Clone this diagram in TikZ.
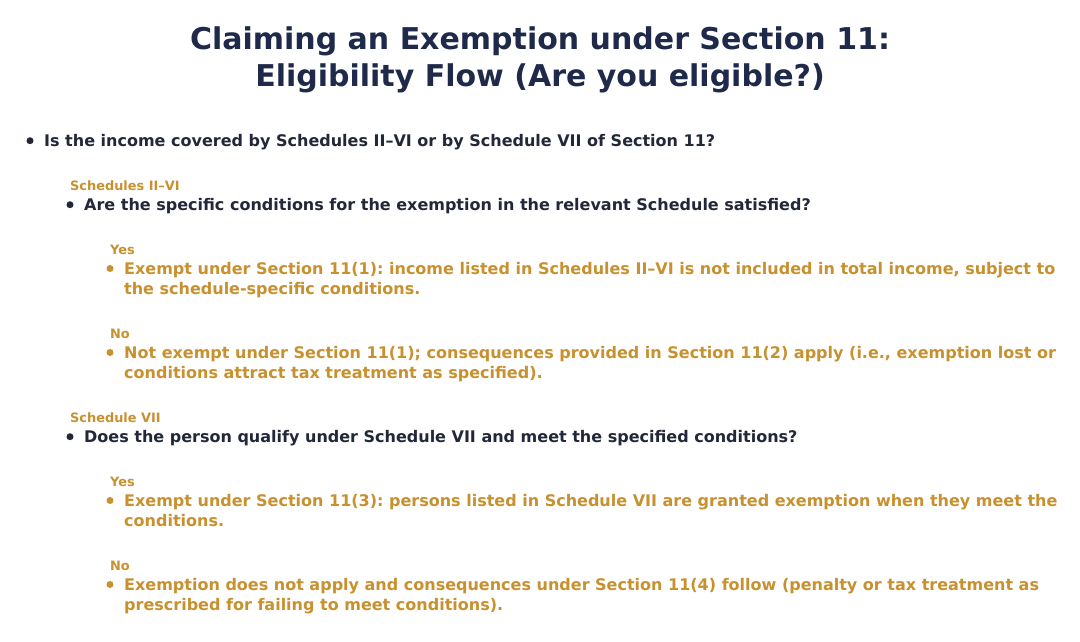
\documentclass[tikz,border=0pt]{standalone}
\usepackage{fontspec}
\setmainfont{DejaVu Sans}
\usetikzlibrary{positioning}
\definecolor{titleblue}{HTML}{1F2A4A}
\definecolor{darktext}{HTML}{22283A}
\definecolor{gold}{HTML}{C8912F}
\frenchspacing
\begin{document}
\begin{tikzpicture}[x=1pt, y=-1pt,
                    title/.style={font=\bfseries\fontsize{30}{36.6}\selectfont, text=titleblue, align=center, inner sep=0},
                    question/.style={anchor=base west, font=\bfseries\fontsize{16}{20}\selectfont, text=darktext, inner sep=0},
                    branch/.style={anchor=base west, font=\bfseries\fontsize{12.9}{14}\selectfont, text=gold, inner sep=0},
                    outcome/.style={anchor=base west, align=left, font=\bfseries\fontsize{16}{20}\selectfont, text=gold, inner sep=0},
                    bullet/.style={circle, fill=#1, inner sep=0, minimum size=7pt}
                    ]
    \useasboundingbox[fill=white] (0,0) rectangle (1080,642);
    % title (base = baseline of last line)
    \node[title, anchor=base] at (540,86.5) (Title) {Claiming an Exemption under Section 11:\\Eligibility Flow (Are you eligible?)};

    % top question
    \node[bullet=darktext] at (30,140.7) (B0) {};
    \node[question] at (44,146.5) (Q0) {Is the income covered by Schedules II–VI or by Schedule VII of Section 11?};

    % Schedules II-VI branch
    \node[branch] at (70,190) (L1) {Schedules II–VI};
    \node[bullet=darktext] at (70,204.7) (B1) {};
    \node[question] at (84,210.5) (Q1) {Are the specific conditions for the exemption in the relevant Schedule satisfied?};

    \node[branch] at (110,254) (L1y) {Yes};
    \node[bullet=gold] at (110,268.5) (B1y) {};
    \node[outcome] at (124,294.3) (O1y) {Exempt under Section 11(1): income listed in Schedules II–VI is not included in total income, subject to\\the schedule-specific conditions.};

    \node[branch] at (110,338) (L1n) {No};
    \node[bullet=gold] at (110,352.5) (B1n) {};
    \node[outcome] at (124,378.3) (O1n) {Not exempt under Section 11(1); consequences provided in Section 11(2) apply (i.e., exemption lost or\\conditions attract tax treatment as specified).};

    % Schedule VII branch
    \node[branch] at (70,422) (L2) {Schedule VII};
    \node[bullet=darktext] at (70,436.7) (B2) {};
    \node[question] at (84,442.5) (Q2) {Does the person qualify under Schedule VII and meet the specified conditions?};

    \node[branch] at (110,486) (L2y) {Yes};
    \node[bullet=gold] at (110,500.5) (B2y) {};
    \node[outcome] at (124,526.3) (O2y) {Exempt under Section 11(3): persons listed in Schedule VII are granted exemption when they meet the\\conditions.};

    \node[branch] at (110,570) (L2n) {No};
    \node[bullet=gold] at (110,584.5) (B2n) {};
    \node[outcome] at (124,610.3) (O2n) {Exemption does not apply and consequences under Section 11(4) follow (penalty or tax treatment as\\prescribed for failing to meet conditions).};
\end{tikzpicture}
\end{document}
